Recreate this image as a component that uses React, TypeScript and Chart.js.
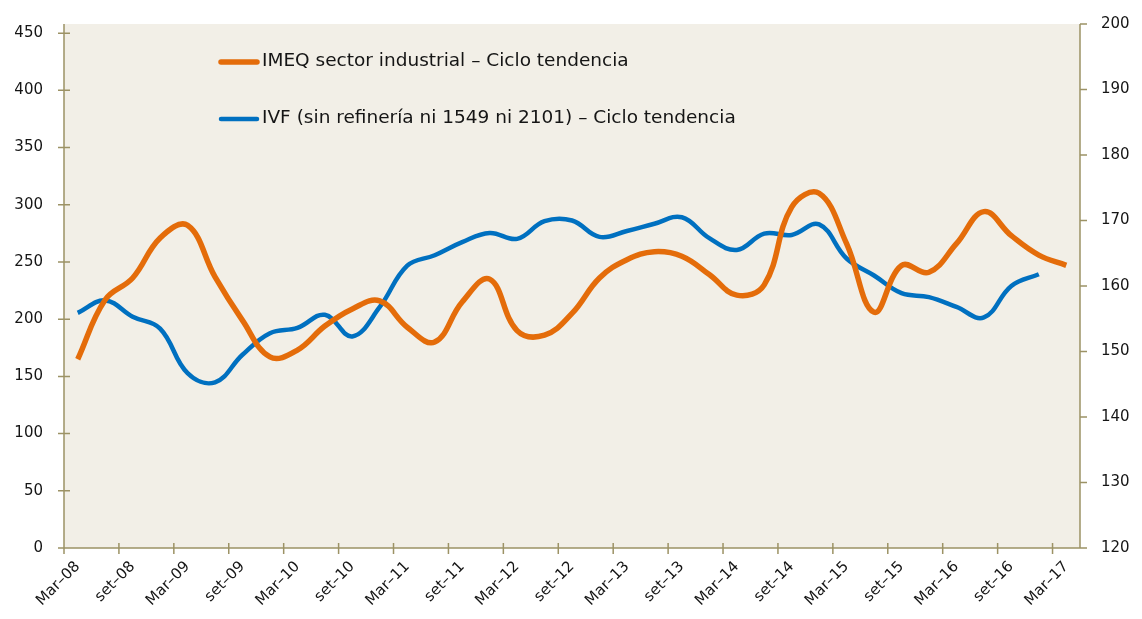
import { useEffect, useRef } from "react";
import { Chart, registerables } from "chart.js";

Chart.register(...registerables);

const categories = [
  "Mar–08", "Jun–08", "set–08", "Dic–08",
  "Mar–09", "Jun–09", "set–09", "Dic–09",
  "Mar–10", "Jun–10", "set–10", "Dic–10",
  "Mar–11", "Jun–11", "set–11", "Dic–11",
  "Mar–12", "Jun–12", "set–12", "Dic–12",
  "Mar–13", "Jun–13", "set–13", "Dic–13",
  "Mar–14", "Jun–14", "set–14", "Dic–14",
  "Mar–15", "Jun–15", "set–15", "Dic–15",
  "Mar–16", "Jun–16", "set–16", "Dic–16",
  "Mar–17",
];

const imeqLabel = "IMEQ sector industrial – Ciclo tendencia";
const imeqValues = [
  165, 217, 236, 271, 282, 237, 199, 167, 173, 194, 209, 216, 193, 180, 215,
  235, 190, 186, 205, 236, 252, 259, 255, 239, 221, 230, 298, 310, 266, 206,
  247, 241, 266, 294, 273, 256, 247,
];

const ivfLabel = "IVF (sin refinería ni 1549 ni 2101) – Ciclo tendencia";
const ivfValues = [
  155.9, 157.8, 155.3, 153.5, 146.7, 145.3, 149.5, 152.8, 153.6, 155.6, 152.3,
  156.8, 163.1, 164.7, 166.7, 168.1, 167.2, 169.9, 170.0, 167.5, 168.4, 169.5,
  170.5, 167.3, 165.5, 168.0, 167.8, 169.4, 164.2, 161.6, 158.9, 158.3, 156.8,
  155.2, 160.0, 161.8,
];

const leftTicks = [0, 50, 100, 150, 200, 250, 300, 350, 400, 450];
const rightTicks = [120, 130, 140, 150, 160, 170, 180, 190, 200];

const ORANGE = "#E46C0A";
const BLUE = "#0070C0";
const BG = "#F2EFE7";
const AXIS = "#9C9265";
const TEXT = "#151515";
const FONT = "'DejaVu Sans', 'Open Sans', sans-serif";

const bgPlugin = {
  id: "bgPlugin",
  beforeDraw(chart: any) {
    const { ctx, chartArea } = chart;
    ctx.save();
    ctx.fillStyle = BG;
    ctx.fillRect(chartArea.left, chartArea.top, chartArea.right - chartArea.left, chartArea.bottom - chartArea.top);
    ctx.restore();
  },
};

const axesPlugin = {
  id: "axesPlugin",
  afterDatasetsDraw(chart: any) {
    const { ctx, chartArea } = chart;
    const x = chart.scales.x;
    const y = chart.scales.y;
    const y1 = chart.scales.y1;
    const step = x.getPixelForValue(1) - x.getPixelForValue(0);
    ctx.save();
    ctx.strokeStyle = AXIS;
    ctx.lineWidth = 1.5;
    ctx.beginPath();
    ctx.moveTo(chartArea.left, chartArea.top);
    ctx.lineTo(chartArea.left, chartArea.bottom);
    ctx.moveTo(chartArea.right, chartArea.top);
    ctx.lineTo(chartArea.right, chartArea.bottom);
    ctx.moveTo(chartArea.left, chartArea.bottom);
    ctx.lineTo(chartArea.right, chartArea.bottom);
    leftTicks.forEach((v) => {
      const py = y.getPixelForValue(v);
      ctx.moveTo(chartArea.left - 6, py);
      ctx.lineTo(chartArea.left + 6, py);
    });
    rightTicks.forEach((v) => {
      const py = y1.getPixelForValue(v);
      ctx.moveTo(chartArea.right, py);
      ctx.lineTo(chartArea.right + 7, py);
    });
    for (let i = 0; i < categories.length; i += 2) {
      const px = x.getPixelForValue(i) - step / 2;
      ctx.moveTo(px, chartArea.bottom - 5);
      ctx.lineTo(px, chartArea.bottom + 6);
    }
    ctx.stroke();
    ctx.restore();
  },
};

const legendPlugin = {
  id: "legendPlugin",
  afterDraw(chart: any) {
    const { ctx, chartArea } = chart;
    const items = [
      { label: imeqLabel, color: ORANGE, width: 5.5, dy: 38 },
      { label: ivfLabel, color: BLUE, width: 4.5, dy: 95 },
    ];
    ctx.save();
    items.forEach((it) => {
      const yy = chartArea.top + it.dy;
      ctx.strokeStyle = it.color;
      ctx.lineWidth = it.width;
      ctx.lineCap = "round";
      ctx.beginPath();
      ctx.moveTo(chartArea.left + 157, yy);
      ctx.lineTo(chartArea.left + 193, yy);
      ctx.stroke();
      ctx.fillStyle = TEXT;
      ctx.font = `18.5px ${FONT}`;
      ctx.textBaseline = "middle";
      ctx.textAlign = "left";
      ctx.fillText(it.label, chartArea.left + 198, yy - 1);
    });
    ctx.restore();
  },
};

const noVPad = (s: any, w: number) => {
  s.width = w;
  s.paddingTop = 0;
  s.paddingBottom = 0;
};

export default function App() {
  const ref = useRef<HTMLCanvasElement | null>(null);

  useEffect(() => {
    document.body.style.margin = "0";
    if (!ref.current) return;
    const chart = new Chart(ref.current, {
      type: "line",
      data: {
        labels: categories,
        datasets: [
          {
            label: imeqLabel,
            data: imeqValues,
            borderColor: ORANGE,
            borderWidth: 5.5,
            pointRadius: 0,
            tension: 0.4,
            yAxisID: "y",
            fill: false,
          },
          {
            label: ivfLabel,
            data: ivfValues,
            borderColor: BLUE,
            borderWidth: 4.5,
            pointRadius: 0,
            tension: 0.4,
            yAxisID: "y1",
            fill: false,
          },
        ],
      },
      options: {
        animation: false,
        responsive: false,
        maintainAspectRatio: false,
        layout: { padding: { top: 24, left: 0, right: 0, bottom: 0 } },
        plugins: {
          legend: { display: false },
          tooltip: { enabled: false },
        },
        scales: {
          x: {
            type: "category",
            offset: true,
            grid: { display: false, drawTicks: false },
            border: { display: false },
            ticks: {
              autoSkip: false,
              maxRotation: 45,
              minRotation: 45,
              padding: 10,
              color: TEXT,
              font: { family: FONT, size: 15 },
              callback: (_v: any, i: number) => (i % 2 === 0 ? categories[i] : ""),
            },
            afterFit: (s: any) => {
              s.height = 71;
              s.paddingLeft = 0;
              s.paddingRight = 0;
            },
          },
          y: {
            type: "linear",
            position: "left",
            min: 0,
            max: 458,
            grid: { display: false, drawTicks: false },
            border: { display: false },
            ticks: {
              stepSize: 50,
              includeBounds: false,
              padding: 21,
              color: TEXT,
              font: { family: FONT, size: 15 },
            },
            afterFit: (s: any) => noVPad(s, 64),
          },
          y1: {
            type: "linear",
            position: "right",
            min: 120,
            max: 200,
            grid: { display: false, drawTicks: false },
            border: { display: false },
            ticks: {
              stepSize: 10,
              padding: 21,
              color: TEXT,
              font: { family: FONT, size: 15 },
            },
            afterFit: (s: any) => noVPad(s, 62),
          },
        },
      },
      plugins: [bgPlugin, axesPlugin, legendPlugin],
    });
    return () => chart.destroy();
  }, []);

  return (
    <div style={{ width: 1142, height: 619 }}>
      <canvas ref={ref} width={1142} height={619} style={{ display: "block" }} />
    </div>
  );
}
